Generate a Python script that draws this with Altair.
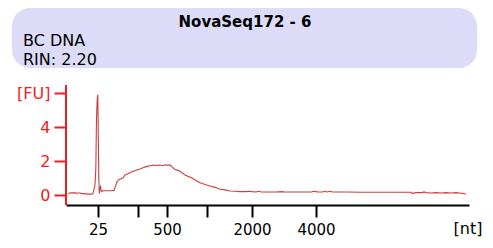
import altair as alt
import pandas as pd

# Electropherogram trace: migration position (axis units) and fluorescence [FU]
trace_pos = [2, 4, 5, 6, 7, 8, 9, 10, 12, 14, 16, 18, 22, 26, 27, 28, 29, 29.8, 30.5, 31.2, 31.8,
             32.3, 32.8, 33.3, 34, 34.5, 35, 36, 37, 39, 42, 45, 48, 49, 50, 51, 52, 53, 54, 55,
             56, 57, 59, 62, 66, 70, 74, 77, 80, 84, 87, 90, 94, 97, 99, 101, 104, 106, 109,
             112, 115, 119, 122, 126, 130, 134, 139, 144, 149, 154, 159, 164, 169, 174, 180,
             183, 186, 190, 193, 195, 200, 210, 216, 218, 230, 246, 247, 250, 252, 257, 258,
             261, 264, 266, 280, 295, 310, 330, 345, 346, 350, 356, 358, 360, 365, 370, 375,
             380, 385, 390, 395, 400]
trace_fu = [0.1, 0.1, 0.15, 0.1, 0.15, 0.1, 0.15, 0.1, 0.12, 0.12, 0.08, 0.08, 0.05, 0.05, 0.1,
            0.35, 0.6, 1.5, 4.5, 5.6, 5.9, 3.5, 1.0, 0.1, 0.3, 0.55, 0.3, 0.2, 0.25, 0.25, 0.25,
            0.25, 0.27, 0.45, 0.6, 0.78, 0.85, 0.9, 0.94, 0.95, 0.98, 1.0, 1.18, 1.25, 1.37,
            1.45, 1.53, 1.6, 1.67, 1.72, 1.76, 1.74, 1.76, 1.72, 1.78, 1.76, 1.76, 1.65, 1.5,
            1.45, 1.35, 1.18, 1.1, 1.0, 0.85, 0.72, 0.62, 0.53, 0.45, 0.34, 0.3, 0.24, 0.22,
            0.2, 0.2, 0.22, 0.2, 0.18, 0.22, 0.18, 0.18, 0.18, 0.2, 0.18, 0.18, 0.18, 0.22,
            0.2, 0.18, 0.18, 0.22, 0.18, 0.22, 0.18, 0.18, 0.16, 0.16, 0.16, 0.16, 0.1, 0.14,
            0.14, 0.18, 0.14, 0.12, 0.14, 0.12, 0.14, 0.12, 0.14, 0.1, 0.06]

# Ladder ticks on the x axis (positions in axis units) and their labels
ladder_pos = [32, 72, 101, 141, 186, 250]
ladder_nt = ["25", "200", "500", "1000", "2000", "4000"]
ladder_shown = ["25", "500", "2000", "4000"]

y_ticks = [0, 2, 4, 6]
title_text = "NovaSeq172 - 6"
sub_lines = ["BC DNA", "RIN: 2.20"]
x_unit = "[nt]"
y_unit = "[FU]"

FONT = "DejaVu Sans"
RED = "#ee1c24"
TRACE = "#d23c3c"

X_DOMAIN = [0, 403]
Y_DOMAIN = [-0.588, 7.059]

df = pd.DataFrame({"pos": trace_pos, "fu": trace_fu})
one = pd.DataFrame({"k": [0]})

label_map = "{" + ",".join(f"'{p}':'{l if l in ladder_shown else ''}'" for p, l in zip(ladder_pos, ladder_nt)) + "}"

xscale = alt.Scale(domain=X_DOMAIN, nice=False, zero=False)
yscale = alt.Scale(domain=Y_DOMAIN, nice=False, zero=False)

trace = alt.Chart(df).mark_line(color=TRACE, strokeWidth=1.1, interpolate="linear").encode(
    x=alt.X("pos:Q", scale=xscale,
            axis=alt.Axis(values=ladder_pos, labelExpr=f"{label_map}[datum.value]",
                          title=None, grid=False, domainColor="black", domainWidth=2,
                          tickColor="black", tickWidth=2, tickSize=12, labelColor="black",
                          labelFontSize=15, labelPadding=5, labelFont=FONT, labelFlush=False)),
    y=alt.Y("fu:Q", scale=yscale,
            axis=alt.Axis(values=y_ticks,
                          labelExpr=f"datum.value == 6 ? '{y_unit}' : datum.label",
                          title=None, grid=False, domain=False, tickColor=RED, tickWidth=2,
                          tickSize=12, labelColor=RED, labelFontSize=16, labelPadding=4,
                          labelFont=FONT)),
)

yline = alt.Chart(pd.DataFrame({"y1": [6.47], "y2": [Y_DOMAIN[0]]})).mark_rule(
    color=RED, strokeWidth=2).encode(
    x=alt.value(0), y=alt.Y("y1:Q", scale=yscale), y2="y2:Q")

box = alt.Chart(one).mark_rect(color="#dcdcf8", cornerRadius=18).encode(
    x=alt.value(-54), x2=alt.value(411), y=alt.value(-67), y2=alt.value(-7))

title = alt.Chart(one).mark_text(text=title_text, font=FONT, fontSize=15, fontWeight="bold",
                                 align="center", baseline="alphabetic", color="black").encode(
    x=alt.value(179), y=alt.value(-48))
sub1 = alt.Chart(one).mark_text(text=sub_lines[0], font=FONT, fontSize=16, align="left",
                                baseline="alphabetic", color="black").encode(
    x=alt.value(-43), y=alt.value(-29))
sub2 = alt.Chart(one).mark_text(text=sub_lines[1], font=FONT, fontSize=16, align="left",
                                baseline="alphabetic", color="black").encode(
    x=alt.value(-43), y=alt.value(-10))
nt = alt.Chart(one).mark_text(text=x_unit, font=FONT, fontSize=16, align="center",
                              baseline="alphabetic", color="black").encode(
    x=alt.value(402), y=alt.value(159))

chart = alt.layer(box, title, sub1, sub2, trace, yline, nt).properties(
    width=403, height=130,
    autosize=alt.AutoSizeParams(type="none"),
    padding={"left": 58, "top": 67, "right": 16, "bottom": 35},
).configure(font=FONT, view=alt.ViewConfig(strokeWidth=0, stroke="transparent"))

chart.save("out.html", embed_options={"renderer": "svg", "actions": False})
